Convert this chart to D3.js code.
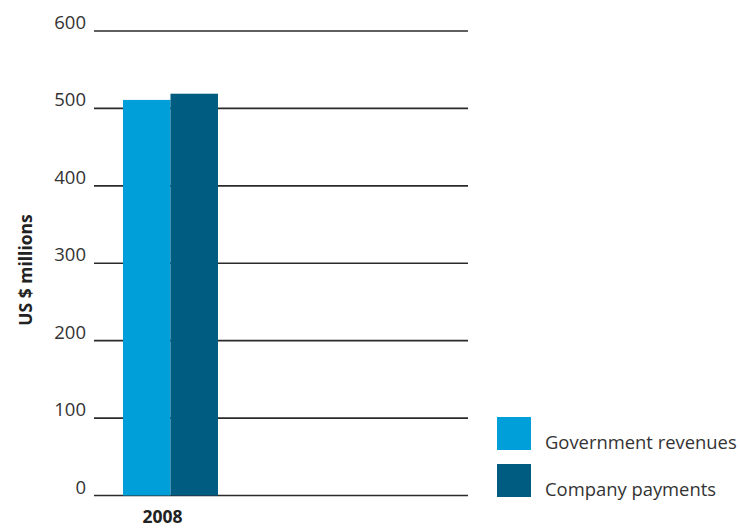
<!DOCTYPE html>
<html><head><meta charset="utf-8">
<script src="https://cdn.jsdelivr.net/npm/d3@7"></script>
<style>
body{margin:0;background:#fff;}
text{font-family:"Open Sans","Noto Sans",sans-serif;}
</style></head>
<body><svg id="c" width="740" height="528"></svg>
<script>
const categories = ["2008"];
const seriesNames = ["Government revenues", "Company payments"];
const govRevenues = [511];
const companyPayments = [519];
const yTicks = [0, 100, 200, 300, 400, 500, 600];
const colors = ["#009fda", "#005c80"];

const svg = d3.select("#c");
const y = d3.scaleLinear().domain([0, 600]).range([495.5, 31]);
const x0 = d3.scaleBand().domain(categories).range([123, 218]).padding(0);
const x1 = d3.scaleBand().domain(seriesNames).range([0, x0.bandwidth()]).padding(0);

// grid lines
const grid = svg.append("g");
grid.selectAll("line").data(yTicks).join("line")
  .attr("x1", 94).attr("x2", 468)
  .attr("y1", d => y(d)).attr("y2", d => y(d))
  .attr("stroke", "#2b2b2b").attr("stroke-width", 1.6);

// tick labels
svg.append("g").selectAll("text").data(yTicks).join("text")
  .attr("x", 86).attr("y", d => y(d) - 2)
  .attr("text-anchor", "end")
  .attr("font-size", 18.5).attr("fill", "#333")
  .text(d => d);

// bars
const data = categories.map((c, i) => ({cat: c, vals: [govRevenues[i], companyPayments[i]]}));
const g = svg.append("g").selectAll("g").data(data).join("g")
  .attr("transform", d => `translate(${x0(d.cat)},0)`);
g.selectAll("rect").data(d => d.vals.map((v, j) => ({name: seriesNames[j], v, j})))
  .join("rect")
  .attr("x", d => x1(d.name)).attr("width", x1.bandwidth())
  .attr("y", d => y(d.v)).attr("height", d => y(0) - y(d.v))
  .attr("fill", d => colors[d.j]);

// x labels
svg.append("g").selectAll("text").data(categories).join("text")
  .attr("x", d => x0(d) + x0.bandwidth() / 2 - 8).attr("y", 523)
  .attr("text-anchor", "middle")
  .attr("font-size", 17.5).attr("font-weight", "bold").attr("fill", "#222")
  .text(d => d);

// y title
svg.append("text")
  .attr("transform", "translate(32,270) rotate(-90)")
  .attr("text-anchor", "middle")
  .attr("font-size", 17.5).attr("font-weight", "bold").attr("fill", "#222")
  .text("US $ millions");

// legend
const lg = svg.append("g").selectAll("g").data(seriesNames).join("g")
  .attr("transform", (d, i) => `translate(497,${417 + i * 47})`);
lg.append("rect").attr("width", 34).attr("height", 33).attr("fill", (d, i) => colors[i]);
lg.append("text").attr("x", 48).attr("y", 32)
  .attr("font-size", 18.4).attr("fill", "#333").text(d => d);
</script></body></html>
